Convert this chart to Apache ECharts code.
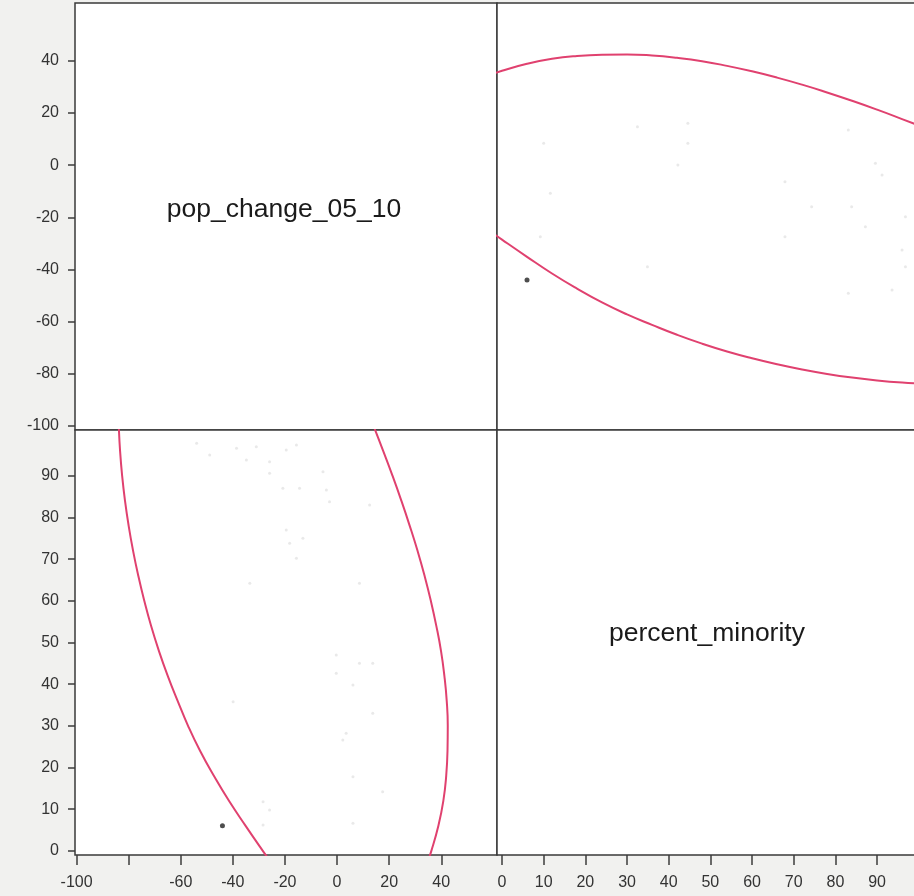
<!DOCTYPE html>
<html>
<head>
<meta charset="utf-8">
<script src="https://cdn.jsdelivr.net/npm/echarts@6/dist/echarts.min.js"></script>
<style>
html,body{margin:0;padding:0;background:#f1f1ef;overflow:hidden;}
#chart{width:914px;height:896px;}
</style>
</head>
<body>
<div id="chart"></div>
<script>
// Variable names shown on the diagonal
const varNames = ['pop_change_05_10', 'percent_minority'];

// Axis tick values
const popTicks = [-100, -80, -60, -40, -20, 0, 20, 40];
const popYLabels = [-100, -80, -60, -40, -20, 0, 20, 40];
const popXLabels = [-100, -60, -40, -20, 0, 20, 40];
const minorityTicks = [0, 10, 20, 30, 40, 50, 60, 70, 80, 90];
const minorityLabels = [0, 10, 20, 30, 40, 50, 60, 70, 80, 90];

// Density ellipse: upper (high pop) branch
const ellipseHighMinority = [-4, 0, 6, 12, 18, 24, 30, 36, 42, 48, 54, 60, 66, 72, 78, 84, 90, 96, 102, 106];
const ellipseHighPop      = [34.0, 36.2, 38.9, 40.8, 41.9, 42.4, 42.5, 42.1, 41.2, 39.9, 38.1, 36.0, 33.6, 30.9, 27.9, 24.7, 21.3, 17.7, 14.0, 11.5];
// lower (low pop) branch
const ellipseLowMinority = [-4, 0, 6, 12, 18, 24, 30, 36, 42, 48, 54, 60, 66, 72, 78, 84, 90, 96, 102, 106];
const ellipseLowPop      = [-24.0, -28.5, -35.1, -41.5, -47.3, -52.6, -57.2, -61.2, -65.0, -68.4, -71.4, -74.0, -76.3, -78.3, -80.0, -81.4, -82.5, -83.3, -83.8, -84.0];

// Faint points, bottom-left panel: [pop_change, percent_minority]
const blPoints = [
  [-53.9, 97.8], [-48.9, 95.0], [-38.6, 96.6], [-31.0, 97.0], [-34.8, 93.8], [-25.9, 93.4],
  [-19.5, 96.2], [-15.6, 97.4], [-25.9, 90.6], [-20.8, 87.0], [-14.4, 87.0], [-5.4, 91.0],
  [-4.1, 86.6], [-2.9, 83.8], [12.5, 83.0], [-19.5, 77.0], [-13.1, 75.0], [-18.2, 73.8],
  [-15.6, 70.2], [-33.5, 64.2], [8.6, 64.2], [-0.3, 47.0], [8.6, 45.0], [13.7, 45.0],
  [-0.3, 42.6], [6.1, 39.8], [-39.9, 35.8], [13.7, 33.0], [3.5, 28.2], [2.2, 26.6],
  [6.1, 17.8], [17.5, 14.2], [-28.4, 11.8], [-25.9, 9.8], [-28.4, 6.2], [6.1, 6.6]
];
// Faint points, top-right panel: [percent_minority, pop_change]
const trPoints = [
  [32.5, 14.8], [44.6, 16.1], [44.6, 8.4], [42.2, 0.1], [10.0, 8.4], [11.6, -10.7],
  [9.2, -27.4], [34.9, -38.9], [67.9, -27.4], [83.1, 13.5], [89.6, 0.8], [91.2, -3.7],
  [67.9, -6.3], [74.3, -15.9], [83.9, -15.9], [87.2, -23.6], [96.8, -19.7], [96.0, -32.5],
  [96.8, -38.9], [93.6, -47.8], [83.1, -49.1]
];
// The one dark point: [pop_change, percent_minority]
const darkPoint = [-44, 6];

const FONT = '"Liberation Sans", Arial, Helvetica, sans-serif';
const ELL_COLOR = '#e0416f';
const PT_COLOR = '#e3e3e3';

const popX = {min: -100.6, max: 61.4};
const popY = {min: -101.5, max: 62.2};
const minY = {min: -1, max: 101};
const minX = {min: -1.2, max: 101.5};

function hiddenAxis(grid, r) {
  return {type: 'value', gridIndex: grid, min: r.min, max: r.max, show: false,
          axisLine: {onZero: false}, splitLine: {show: false}};
}
function shownAxis(grid, r, ticks, labels, isX) {
  return {
    type: 'value', gridIndex: grid, min: r.min, max: r.max,
    position: isX ? 'bottom' : 'left',
    axisLine: {show: false, onZero: false},
    splitLine: {show: false},
    axisTick: {show: true, inside: false, length: isX ? 10 : 7, customValues: ticks,
               lineStyle: {color: '#3c3c3c', width: 1.5}},
    axisLabel: {show: true, customValues: labels, margin: isX ? 20 : 16,
                color: '#333', fontSize: 16, fontFamily: FONT, showMinLabel: true, showMaxLabel: true}
  };
}

const gridStyle = {show: true, borderColor: '#3a3a3a', borderWidth: 1.5, backgroundColor: '#ffffff',
                   containLabel: false, outerBoundsMode: 'none'};

const option = {
  backgroundColor: '#f1f1ef',
  animation: false,
  grid: [
    Object.assign({left: 75, top: 3, width: 422, height: 427}, gridStyle),   // TL
    Object.assign({left: 497, top: 3, width: 428, height: 427}, gridStyle),  // TR
    Object.assign({left: 75, top: 430, width: 422, height: 425}, gridStyle), // BL
    Object.assign({left: 497, top: 430, width: 428, height: 425}, gridStyle) // BR
  ],
  xAxis: [
    hiddenAxis(0, popX),
    hiddenAxis(1, minX),
    shownAxis(2, popX, popTicks, popXLabels, true),
    shownAxis(3, minX, minorityTicks, minorityLabels, true)
  ],
  yAxis: [
    shownAxis(0, popY, popTicks, popYLabels, false),
    hiddenAxis(1, popY),
    shownAxis(2, minY, minorityTicks, minorityLabels, false),
    hiddenAxis(3, minY)
  ],
  graphic: [
    {type: 'text', x: 284, y: 210, style: {text: varNames[0], font: '26.5px ' + FONT, fill: '#1a1a1a', textAlign: 'center', textVerticalAlign: 'middle'}},
    {type: 'text', x: 707, y: 634, style: {text: varNames[1], font: '26.5px ' + FONT, fill: '#1a1a1a', textAlign: 'center', textVerticalAlign: 'middle'}}
  ],
  series: [
    // top-right: x = percent_minority, y = pop_change
    {type: 'scatter', xAxisIndex: 1, yAxisIndex: 1, symbolSize: 3, itemStyle: {color: PT_COLOR}, data: trPoints, silent: true},
    {type: 'scatter', xAxisIndex: 1, yAxisIndex: 1, symbolSize: 5, itemStyle: {color: '#222'}, data: [[darkPoint[1], darkPoint[0]]], silent: true},
    {type: 'line', xAxisIndex: 1, yAxisIndex: 1, smooth: true, showSymbol: false, clip: true,
     lineStyle: {color: ELL_COLOR, width: 2}, data: ellipseHighMinority.map((m, i) => [m, ellipseHighPop[i]])},
    {type: 'line', xAxisIndex: 1, yAxisIndex: 1, smooth: true, showSymbol: false, clip: true,
     lineStyle: {color: ELL_COLOR, width: 2}, data: ellipseLowMinority.map((m, i) => [m, ellipseLowPop[i]])},
    // bottom-left: x = pop_change, y = percent_minority
    {type: 'scatter', xAxisIndex: 2, yAxisIndex: 2, symbolSize: 3, itemStyle: {color: PT_COLOR}, data: blPoints, silent: true},
    {type: 'scatter', xAxisIndex: 2, yAxisIndex: 2, symbolSize: 5, itemStyle: {color: '#222'}, data: [darkPoint], silent: true},
    {type: 'line', xAxisIndex: 2, yAxisIndex: 2, smooth: true, showSymbol: false, clip: true,
     lineStyle: {color: ELL_COLOR, width: 2}, data: ellipseHighMinority.map((m, i) => [ellipseHighPop[i], m])},
    {type: 'line', xAxisIndex: 2, yAxisIndex: 2, smooth: true, showSymbol: false, clip: true,
     lineStyle: {color: ELL_COLOR, width: 2}, data: ellipseLowMinority.map((m, i) => [ellipseLowPop[i], m])}
  ]
};

const chart = echarts.init(document.getElementById('chart'), null, {renderer: 'canvas'});
chart.setOption(option);
</script>
</body>
</html>
